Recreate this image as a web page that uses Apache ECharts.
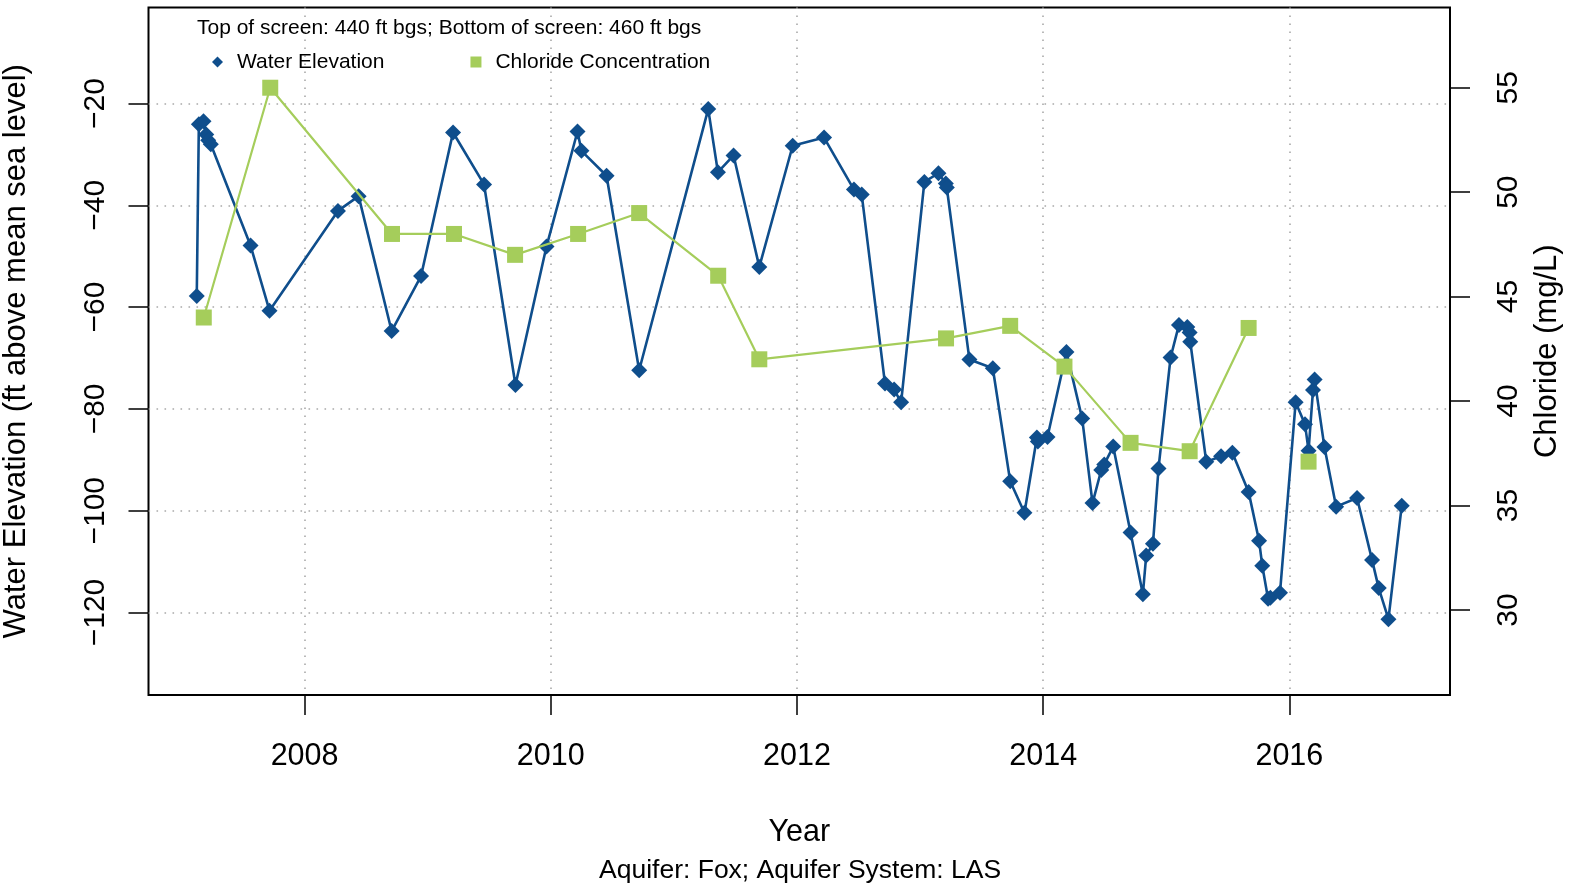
<!DOCTYPE html>
<html>
<head>
<meta charset="utf-8">
<script src="https://cdn.jsdelivr.net/npm/echarts@6/dist/echarts.min.js"></script>
<style>
  html, body { margin: 0; padding: 0; background: #fff; }
  #chart { width: 1580px; height: 888px; }
</style>
</head>
<body>
<div id="chart"></div>
<script>
// ---- Data ----
const waterYears = [
  2007.124, 2007.141, 2007.179, 2007.201, 2007.217, 2007.238, 2007.561, 2007.715,
  2008.271, 2008.439, 2008.707, 2008.946, 2009.206, 2009.458, 2009.713, 2009.965,
  2010.217, 2010.249, 2010.453, 2010.718, 2011.279, 2011.358, 2011.485, 2011.694,
  2011.965, 2012.220, 2012.463, 2012.526, 2012.715, 2012.789, 2012.846, 2013.035,
  2013.149, 2013.209, 2013.217, 2013.401, 2013.591, 2013.732, 2013.848, 2013.949,
  2013.957, 2014.035, 2014.189, 2014.317, 2014.401, 2014.472, 2014.496, 2014.569,
  2014.710, 2014.810, 2014.837, 2014.892, 2014.937, 2015.035, 2015.103, 2015.171,
  2015.190, 2015.195, 2015.325, 2015.445, 2015.537, 2015.669, 2015.754, 2015.780,
  2015.827, 2015.846, 2015.924, 2016.051, 2016.127, 2016.156, 2016.192, 2016.205,
  2016.285, 2016.380, 2016.550, 2016.672, 2016.726, 2016.805, 2016.913
];
const waterElevation = [
  -57.8, -24.1, -23.5, -26.1, -27.2, -28.0, -47.9, -60.7,
  -41.1, -38.2, -64.7, -53.9, -25.7, -35.9, -75.3, -48.1,
  -25.5, -29.3, -34.2, -72.4, -21.1, -33.5, -30.2, -52.1,
  -28.3, -26.7, -36.9, -37.9, -75.0, -76.2, -78.7, -35.4,
  -33.7, -35.7, -36.5, -70.3, -72.0, -94.2, -100.4, -85.6,
  -86.4, -85.5, -68.8, -81.9, -98.5, -92.0, -90.9, -87.4,
  -104.3, -116.4, -108.8, -106.5, -91.7, -69.9, -63.5, -63.9,
  -65.0, -66.8, -90.4, -89.3, -88.6, -96.3, -105.9, -110.8,
  -117.3, -117.1, -116.1, -78.7, -83.0, -88.2, -76.3, -74.2,
  -87.5, -99.2, -97.5, -109.7, -115.2, -121.3, -99.0
];
const chlorideYears = [
  2007.181, 2007.721, 2008.710, 2009.214, 2009.710, 2010.222, 2010.718, 2011.360,
  2011.694, 2013.211, 2013.732, 2014.173, 2014.710, 2015.190, 2015.669, 2016.156
];
const chlorideValues = [
  44.0, 55.0, 48.0, 48.0, 47.0, 48.0, 49.0, 46.0,
  42.0, 43.0, 43.6, 41.65, 38.0, 37.6, 43.5, 37.1
];
// the last chloride sample is not joined to the previous one
const chlorideConnectedCount = 15;

const xTicks = [2008, 2010, 2012, 2014, 2016];
const leftTicks = [-120, -100, -80, -60, -40, -20];
const rightTicks = [30, 35, 40, 45, 50, 55];

const headerText = 'Top of screen: 440 ft bgs; Bottom of screen: 460 ft bgs';
const subText = 'Aquifer: Fox; Aquifer System: LAS';
const xTitle = 'Year';
const leftTitle = 'Water Elevation (ft above mean sea level)';
const rightTitle = 'Chloride (mg/L)';
const waterName = 'Water Elevation';
const chlorideName = 'Chloride Concentration';

// ---- Build ----
const FONT = '"Liberation Sans", Arial, Helvetica, sans-serif';
const BLUE = '#0f4e8c';
const GREEN = '#a5cd5b';
const GRIDC = '#a9a9a9';
const minus = v => String(v).replace('-', '\u2212');

const waterData = waterYears.map((x, i) => [x, waterElevation[i]]);
const chlorideData = chlorideYears.map((x, i) => [x, chlorideValues[i]]);

const chart = echarts.init(document.getElementById('chart'), null, { renderer: 'canvas' });

const tickStyle = { show: true, inside: false, length: 20, lineStyle: { color: '#000', width: 1.5 } };
const dotted = { show: true, lineStyle: { color: GRIDC, width: 1.6, type: [1.6, 6.4] } };

chart.setOption({
  animation: false,
  backgroundColor: '#fff',
  textStyle: { fontFamily: FONT },
  title: [
    {
      text: subText, left: 599, top: 857.5, padding: 0,
      textStyle: { fontFamily: FONT, fontSize: 26.5, fontWeight: 'normal', color: '#000' }
    },
    {
      text: headerText, left: 197, top: 17.5, padding: 0,
      textStyle: { fontFamily: FONT, fontSize: 21, fontWeight: 'normal', color: '#000' }
    }
  ],
  legend: {
    left: 212, top: 51.5, padding: 0,
    itemWidth: 11, itemHeight: 11, itemGap: 86,
    data: [
      { name: waterName, icon: 'diamond' },
      { name: chlorideName, icon: 'rect' }
    ],
    formatter: name => '{s|}' + name,
    textStyle: {
      fontFamily: FONT, fontSize: 21, color: '#000',
      rich: { s: { width: 9 } }
    },
    selectedMode: false
  },
  grid: {
    left: 148.5, right: 130, top: 7.5, bottom: 193,
    outerBoundsMode: 'none', containLabel: false,
    show: true, borderColor: '#000', borderWidth: 2, backgroundColor: 'transparent'
  },
  xAxis: {
    type: 'value', min: 2006.732, max: 2017.305,
    name: xTitle, nameLocation: 'middle', nameGap: 122,
    nameTextStyle: { fontFamily: FONT, fontSize: 30.5, color: '#000' },
    axisLine: { show: false },
    axisTick: Object.assign({ customValues: xTicks }, tickStyle),
    axisLabel: {
      customValues: xTicks, fontFamily: FONT, fontSize: 30.5, color: '#000', margin: 46,
      formatter: v => String(v)
    },
    splitLine: dotted
  },
  yAxis: [
    {
      type: 'value', position: 'left', min: -136.2, max: -1.14,
      name: leftTitle, nameLocation: 'middle', nameGap: 117,
      nameTextStyle: { fontFamily: FONT, fontSize: 31, color: '#000' },
      axisLine: { show: false },
      axisTick: Object.assign({ customValues: leftTicks }, tickStyle),
      axisLabel: {
        customValues: leftTicks, rotate: 90, fontFamily: FONT, fontSize: 30, color: '#000',
        margin: 38, formatter: minus
      },
      splitLine: dotted
    },
    {
      type: 'value', position: 'right', min: 25.93, max: 58.84,
      name: rightTitle, nameLocation: 'middle', nameGap: 80,
      nameTextStyle: { fontFamily: FONT, fontSize: 31, color: '#000' },
      axisLine: { show: false },
      axisTick: Object.assign({ customValues: rightTicks }, tickStyle),
      axisLabel: {
        customValues: rightTicks, rotate: 90, fontFamily: FONT, fontSize: 30, color: '#000',
        margin: 44, formatter: v => String(v)
      },
      splitLine: { show: false }
    }
  ],
  series: [
    {
      name: waterName, type: 'line', yAxisIndex: 0, data: waterData,
      symbol: 'diamond', symbolSize: 16, showAllSymbol: true,
      lineStyle: { color: BLUE, width: 2.6 }, itemStyle: { color: BLUE },
      z: 2
    },
    {
      name: chlorideName, type: 'line', yAxisIndex: 1,
      data: chlorideData.slice(0, chlorideConnectedCount),
      symbol: 'rect', symbolSize: 16, showAllSymbol: true,
      lineStyle: { color: GREEN, width: 2.2 }, itemStyle: { color: GREEN },
      z: 3
    },
    {
      name: chlorideName, type: 'line', yAxisIndex: 1,
      data: chlorideData.slice(chlorideConnectedCount),
      symbol: 'rect', symbolSize: 16, showAllSymbol: true,
      lineStyle: { color: GREEN, width: 2.2 }, itemStyle: { color: GREEN },
      z: 3
    }
  ]
});
</script>
</body>
</html>
